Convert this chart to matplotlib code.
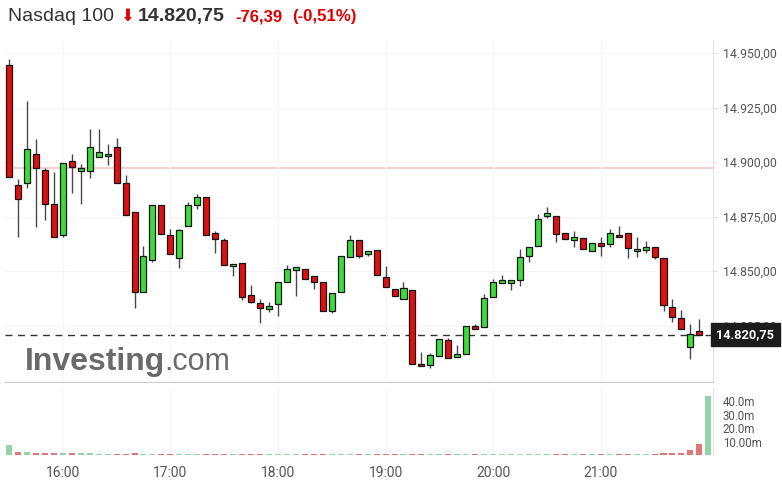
import matplotlib
matplotlib.use('Agg')
import matplotlib.pyplot as plt
import numpy as np

plt.rcParams['font.family'] = ['Roboto', 'DejaVu Sans']

# 5-minute candles from 15:30 to 21:55
opens = [14944.5, 14889.5, 14890.4, 14903.7, 14896.3, 14880.7, 14866.5, 14900.5, 14895.9, 14895.9,
         14902.3, 14902.8, 14906.9, 14890.4, 14877.1, 14840.4, 14855.0, 14880.3, 14866.5, 14856.0,
         14870.6, 14880.3, 14883.9, 14867.4, 14864.2, 14852.3, 14853.7, 14839.0, 14835.3, 14832.6,
         14834.9, 14845.0, 14850.5, 14850.9, 14847.7, 14845.0, 14831.7, 14840.4, 14856.4, 14864.2,
         14857.8, 14859.6, 14847.2, 14841.7, 14837.2, 14841.3, 14807.3, 14806.9, 14811.0, 14818.4,
         14810.6, 14811.9, 14824.8, 14824.3, 14838.1, 14844.5, 14844.5, 14845.9, 14856.9, 14861.5,
         14875.2, 14875.2, 14867.4, 14864.2, 14865.1, 14859.2, 14862.8, 14862.4, 14866.5, 14867.4,
         14859.2, 14859.6, 14861.0, 14856.0, 14833.5, 14828.4, 14815.0, 14822.3]
highs = [14947.2, 14892.2, 14928.0, 14910.6, 14897.2, 14895.4, 14899.5, 14903.7, 14899.1, 14915.1,
         14915.1, 14908.3, 14911.0, 14894.0, 14877.1, 14861.5, 14880.3, 14880.3, 14869.3, 14869.3,
         14881.7, 14885.3, 14883.9, 14868.4, 14865.1, 14853.2, 14853.7, 14843.6, 14837.2, 14835.8,
         14845.0, 14852.8, 14851.8, 14850.9, 14847.7, 14845.0, 14839.9, 14856.9, 14866.5, 14864.2,
         14859.2, 14859.6, 14852.3, 14841.7, 14845.0, 14841.3, 14812.8, 14812.4, 14818.8, 14819.3,
         14816.1, 14824.8, 14825.7, 14839.4, 14846.3, 14848.2, 14845.9, 14860.1, 14861.0, 14876.1,
         14879.4, 14875.2, 14867.4, 14868.4, 14865.1, 14862.8, 14865.6, 14869.3, 14870.6, 14867.4,
         14865.6, 14863.8, 14861.0, 14856.0, 14837.2, 14832.1, 14825.7, 14828.0]
lows = [14893.1, 14865.6, 14888.1, 14870.2, 14873.4, 14865.6, 14865.6, 14885.8, 14880.7, 14892.7,
        14902.3, 14898.6, 14890.4, 14875.7, 14833.0, 14840.4, 14854.1, 14867.0, 14857.8, 14851.4,
        14870.6, 14878.4, 14866.5, 14858.3, 14852.8, 14847.7, 14836.7, 14835.3, 14826.1, 14831.2,
        14829.4, 14845.0, 14838.5, 14846.3, 14841.7, 14831.7, 14830.7, 14840.4, 14856.4, 14856.0,
        14856.9, 14848.2, 14842.7, 14838.5, 14837.2, 14807.3, 14806.4, 14805.5, 14811.0, 14810.1,
        14810.6, 14811.9, 14823.4, 14824.3, 14838.1, 14844.5, 14841.3, 14843.1, 14854.1, 14861.5,
        14874.3, 14863.3, 14864.7, 14861.0, 14860.1, 14859.2, 14856.9, 14861.0, 14865.6, 14856.0,
        14856.4, 14858.3, 14855.5, 14831.7, 14826.6, 14823.4, 14809.6, 14820.75]
closes = [14893.1, 14883.0, 14906.0, 14897.2, 14880.7, 14865.6, 14899.5, 14897.7, 14897.2, 14906.9,
          14904.6, 14903.7, 14890.4, 14875.7, 14840.4, 14856.9, 14880.3, 14867.0, 14857.8, 14868.8,
          14880.3, 14883.9, 14866.5, 14864.7, 14852.8, 14853.2, 14838.1, 14835.8, 14833.0, 14833.9,
          14845.0, 14850.9, 14851.8, 14846.3, 14845.0, 14831.7, 14839.9, 14856.9, 14864.2, 14856.9,
          14859.2, 14848.2, 14842.7, 14838.5, 14842.2, 14807.3, 14806.4, 14811.5, 14818.8, 14810.1,
          14811.9, 14824.8, 14823.4, 14837.6, 14845.0, 14845.9, 14845.9, 14856.4, 14861.0, 14873.9,
          14876.6, 14867.0, 14864.7, 14865.6, 14860.1, 14862.8, 14861.5, 14867.4, 14865.6, 14860.6,
          14860.1, 14861.0, 14856.4, 14834.4, 14828.9, 14823.4, 14821.0, 14820.75]

# volume in millions, 15:30 .. 22:00
volumes = [7.5, 2.5, 2.2, 1.5, 1.5, 1.5, 1.2, 1.5, 1.5, 1.2,
           0.8, 0.7, 0.7, 0.7, 1.8, 0.6, 0.6, 0.5, 0.5, 0.6,
           0.5, 0.5, 0.6, 0.5, 0.5, 0.5, 0.6, 0.5, 0.5, 0.5,
           0.5, 0.5, 0.5, 0.6, 0.5, 0.5, 0.5, 0.6, 0.5, 0.5,
           0.5, 0.5, 0.5, 0.5, 0.5, 0.7, 0.6, 0.5, 0.5, 0.5,
           0.5, 0.5, 0.5, 0.6, 0.5, 0.5, 0.5, 0.5, 0.5, 0.6,
           0.5, 0.5, 0.5, 0.5, 0.5, 0.5, 0.5, 0.6, 0.5, 0.5,
           0.5, 0.6, 0.6, 1.4, 1.4, 1.5, 3.8, 8.5, 44.0]

prev_close = 14897.14
last_price = 14820.75
price_ticks = [14825, 14850, 14875, 14900, 14925, 14950]
vol_ticks = [10, 20, 30, 40]
vol_tick_labels = ['10.00m', '20.0m', '30.0m', '40.0m']
hour_ticks = [16, 17, 18, 19, 20, 21]


def de_fmt(v):
    return f"{v:,.2f}".replace(',', 'X').replace('.', ',').replace('X', '.')


W, H = 782, 497
fig = plt.figure(figsize=(W / 100, H / 100), dpi=100)


def fx(px):
    return px / W


def fy(py):
    return 1 - py / H


ax = fig.add_axes([fx(5), fy(382), fx(713) - fx(5), fy(40) - fy(382)])
axv = fig.add_axes([fx(5), fy(455), fx(713) - fx(5), fy(388) - fy(455)])

o = np.array(opens)
c = np.array(closes)
t = 15.5 + np.arange(len(o)) * 5 / 60
tv = 15.5 + np.arange(len(volumes)) * 5 / 60
up = c >= o

GREEN = '#3ddc3d'
RED = '#e01010'

ax.vlines(t, lows, highs, color='#484848', lw=1.0, zorder=2)
ax.bar(t, np.maximum(np.abs(c - o), 0.9), bottom=np.minimum(o, c), width=0.056,
       color=np.where(up, GREEN, RED), edgecolor='#151515', linewidth=0.9, zorder=3)

ax.axhline(prev_close, color='#f7c6ca', lw=1.2, zorder=1)
ax.axhline(last_price, color='#333333', lw=1.0, ls=(0, (5, 4)), zorder=1)

xmin, xmax = 15.5 - 2.23 / 60, 15.5 + 392.6 / 60
ax.set_xlim(xmin, xmax)
ax.set_ylim(14799.1, 14956.0)
ax.yaxis.tick_right()
ax.set_yticks(price_ticks)
ax.set_yticklabels([de_fmt(v) for v in price_ticks])
ax.tick_params(axis='y', length=3, width=0.8, color='#dddddd', labelcolor='#555555',
               labelsize=8.8, pad=4)
ax.set_xticks(hour_ticks)
ax.tick_params(axis='x', length=0, labelbottom=False)
ax.grid(True, color='#f5f5f5', lw=0.8, zorder=0)
for s in ['top', 'left']:
    ax.spines[s].set_visible(False)
ax.spines['bottom'].set_color('#cccccc')
ax.spines['right'].set_color('#e2e2e2')

# last price box, drawn over the 14.825 label as in the source
ax.annotate(de_fmt(last_price), xy=(1.0, last_price), xycoords=('axes fraction', 'data'),
            xytext=(2.5, 0), textcoords='offset points', ha='left', va='center',
            color='white', fontsize=9.2, fontweight='bold', zorder=10, annotation_clip=False,
            bbox=dict(boxstyle='square,pad=0.4', fc='#1c1c1c', ec='#1c1c1c'))

# volume panel
vol_up = list(up) + [True]
vol_up[0] = True
vol_up[76] = False
axv.bar(tv, volumes, width=0.056, color=np.where(vol_up, '#93d3a6', '#e07676'), zorder=2)
axv.set_xlim(xmin, xmax)
axv.set_ylim(0, 50)
axv.yaxis.tick_right()
axv.set_yticks(vol_ticks)
axv.set_yticklabels(vol_tick_labels)
axv.tick_params(axis='y', length=0, labelcolor='#555555', labelsize=8.3, pad=7)
axv.set_xticks(hour_ticks)
axv.set_xticklabels([f"{h}:00" for h in hour_ticks])
axv.tick_params(axis='x', length=0, labelcolor='#555555', labelsize=10, pad=8)
axv.grid(True, axis='x', color='#f5f5f5', lw=0.8, zorder=0)
for s in ['top', 'left', 'bottom']:
    axv.spines[s].set_visible(False)
axv.spines['right'].set_color('#e2e2e2')

# watermark
fig.text(fx(25), fy(370), 'Investing', fontsize=23, fontweight='bold', color='#6a6a6a',
         family=['Liberation Sans', 'DejaVu Sans'], va='baseline', ha='left')
fig.text(fx(164), fy(370), '.com', fontsize=22, color='#6a6a6a',
         family=['Liberation Sans', 'DejaVu Sans'], va='baseline', ha='left')

# header
hdr = ['Liberation Sans', 'DejaVu Sans']
fig.text(fx(8), fy(21), 'Nasdaq 100', fontsize=14, color='#333333', family=hdr, va='baseline')
fig.text(fx(120), fy(21), '\u2b07', fontsize=12, color='#e00000', family=['DejaVu Sans'],
         va='baseline')
fig.text(fx(138), fy(21), de_fmt(last_price), fontsize=14, fontweight='bold', color='#333333',
         family=hdr, va='baseline')
fig.text(fx(235), fy(21), '-76,39', fontsize=12, fontweight='bold', color='#e00000',
         family=hdr, va='baseline')
fig.text(fx(292), fy(21), '(-0,51%)', fontsize=12.2, fontweight='bold', color='#e00000',
         family=hdr, va='baseline')

fig.savefig('out.png', dpi=100)
